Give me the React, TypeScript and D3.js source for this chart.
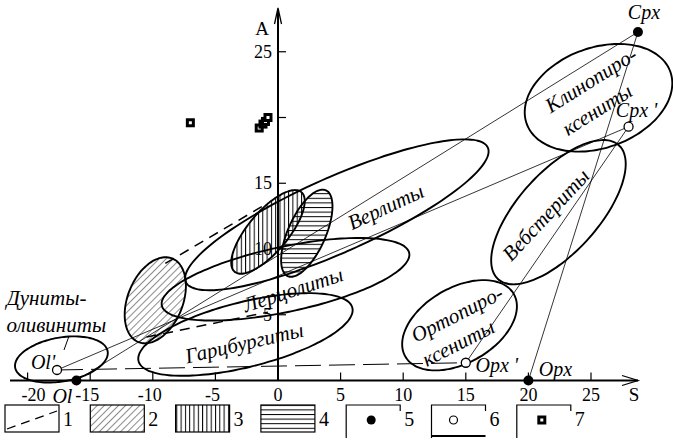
import React from 'react';
import * as d3 from 'd3';

// axis ticks
const sTicks = [-20, -15, -10, -5, 0, 5, 10, 15, 20, 25];
const aTicks = [5, 10, 15, 20, 25];
const aTickLabels = ['5', '10', '15', '', '25'];

// end members (filled dots) and recalculated end members (open dots)
const endNames = ['Cpx', 'Opx', 'Ol'];
const endS = [28.75, 20.0, -16.1];
const endA = [26.5, 0, 0];
const primeNames = ["Cpx '", "Opx '", "Ol'"];
const primeS = [28.0, 15.0, -17.65];
const primeA = [19.3, 1.35, 0.8];

// samples (legend 7)
const sampleS = [-7.0, -1.5, -1.2, -1.0, -0.8];
const sampleA = [19.6, 19.2, 19.5, 19.7, 20.0];

// rock fields: centre (S, A), half axes in S units, tilt in degrees
const fieldNames = ['Клинопироксениты', 'Вебстериты', 'Ортопироксениты', 'Верлиты', 'Лерцолиты', 'Гарцбургиты', 'Дуниты-оливиниты'];
const fieldS = [25.6, 22.4, 14.5, 4.7, 0.6, -2.6, -17.3];
const fieldA = [21.5, 12.8, 4.2, 12.6, 7.7, 3.5, 1.6];
const fieldRs = [6.1, 7.2, 5.0, 13.2, 10.1, 8.8, 3.75];
const fieldRa = [4.0, 3.2, 3.0, 3.0, 2.6, 2.6, 1.75];
const fieldTilt = [-20, -48, -30, -24, -12, -14, -10];

// hatched fields (legend 2, 3, 4)
const hatchS = [-9.8, -0.8, 2.3];
const hatchA = [6.1, 11.3, 11.2];
const hatchRs = [3.6, 4.15, 3.75];
const hatchRa = [2.2, 1.6, 1.5];
const hatchTilt = [-68, -50, -66];

// trend lines (legend 1)
const trendS0 = [-9.0, -10.5];
const trendA0 = [8.9, 3.3];
const trendS1 = [-0.8, -0.8];
const trendA1 = [13.5, 5.2];

// field labels
const labelText = ['Клинопиро-', 'ксениты', 'Вебстериты', 'Ортопиро-', 'ксениты', 'Верлиты', 'Лерцолиты', 'Гарцбургиты', 'Дуниты-', 'оливиниты'];
const labelS = [25.0, 25.5, 21.4, 14.3, 14.4, 8.6, 1.2, -2.7, -18.5, -17.7];
const labelA = [22.85, 20.6, 12.6, 5.05, 2.85, 13.2, 6.9, 2.85, 6.3, 4.2];
const labelTilt = [-32, -32, -47, -27, -27, -25, -18, -13, 0, 0];

const legendNums = ['1', '2', '3', '4', '5', '6', '7'];

const x = d3.scaleLinear().domain([0, 25]).range([278, 591]);
const y = d3.scaleLinear().domain([0, 25]).range([380.5, 51.75]);
const k = x(1) - x(0);

function ellipse(cs: number, ca: number, rs: number, ra: number, tilt: number) {
  const cx = x(cs), cy = y(ca);
  const rx = rs * k, ry = ra * k;
  const th = (tilt * Math.PI) / 180;
  const pts = d3.range(90).map((i) => {
    const t = (i / 90) * Math.PI * 2;
    const ex = rx * Math.cos(t), ey = ry * Math.sin(t);
    return [cx + ex * Math.cos(th) - ey * Math.sin(th), cy + ex * Math.sin(th) + ey * Math.cos(th)] as [number, number];
  });
  return d3.line().curve(d3.curveCardinalClosed)(pts) || '';
}

const hatchFill = ['url(#pDiag)', 'url(#pVert)', 'url(#pHor)'];

function Square({ cx, cy }: { cx: number; cy: number }) {
  return (
    <g>
      <rect x={cx - 4.5} y={cy - 4.5} width={9} height={9} fill="#000" />
      <rect x={cx - 1.5} y={cy - 1.5} width={3} height={3} fill="#fff" />
    </g>
  );
}

export default function App() {
  const y0 = y(0);
  const ties: [number, number, number, number][] = [
    [endS[0], endA[0], endS[2], endA[2]],
    [primeS[0], primeA[0], primeS[2], primeA[2]],
    [endS[0], endA[0], endS[1], endA[1]],
    [primeS[0], primeA[0], primeS[1], primeA[1]],
  ];
  const endOff = [[6, -20], [27, -12], [-14, 15]];
  const primeOff = [[8, -17], [31, 2], [-14, -8]];
  const italic = { fontStyle: 'italic' as const };

  return (
    <svg width={673} height={441} style={{ position: 'absolute', left: 0, top: 0, background: '#fff' }}
      fontFamily="'Liberation Serif', 'Times New Roman', serif">
      <defs>
        <pattern id="pDiag" width={5} height={5} patternUnits="userSpaceOnUse" patternTransform="rotate(45)">
          <line x1={0} y1={0} x2={0} y2={5} stroke="#000" strokeWidth={0.9} />
        </pattern>
        <pattern id="pVert" width={4.3} height={10} patternUnits="userSpaceOnUse">
          <line x1={0.5} y1={0} x2={0.5} y2={10} stroke="#000" strokeWidth={1} />
        </pattern>
        <pattern id="pHor" width={10} height={4.6} patternUnits="userSpaceOnUse">
          <line x1={0} y1={0.5} x2={10} y2={0.5} stroke="#000" strokeWidth={1} />
        </pattern>
      </defs>

      {/* hatched fields */}
      {hatchS.map((s, i) => (
        <path key={'h' + i} d={ellipse(s, hatchA[i], hatchRs[i], hatchRa[i], hatchTilt[i])}
          fill={hatchFill[i]} stroke="#000" strokeWidth={1.9} />
      ))}

      {/* rock fields */}
      {fieldNames.map((n, i) => (
        <path key={n} d={ellipse(fieldS[i], fieldA[i], fieldRs[i], fieldRa[i], fieldTilt[i])}
          fill="none" stroke="#000" strokeWidth={1.9} />
      ))}

      {/* tie lines */}
      {ties.map((t, i) => (
        <line key={'t' + i} x1={x(t[0])} y1={y(t[1])} x2={x(t[2])} y2={y(t[3])} stroke="#000" strokeWidth={0.8} />
      ))}
      <line x1={x(primeS[2])} y1={y(primeA[2])} x2={x(primeS[1])} y2={y(primeA[1])}
        stroke="#000" strokeWidth={1} strokeDasharray="26 8" />

      {/* trend lines */}
      {trendS0.map((s, i) => (
        <line key={'tr' + i} x1={x(s)} y1={y(trendA0[i])} x2={x(trendS1[i])} y2={y(trendA1[i])}
          stroke="#000" strokeWidth={1.5} strokeDasharray="10 7" />
      ))}

      {/* axes */}
      <line x1={10} y1={y0} x2={638} y2={y0} stroke="#000" strokeWidth={2} />
      <polyline points={`622,${y0 - 5} 638,${y0} 622,${y0 + 5}`} fill="none" stroke="#000" strokeWidth={1.3} />
      <line x1={x(0)} y1={y0} x2={x(0)} y2={9} stroke="#000" strokeWidth={2} />
      <polyline points={`${x(0) - 3.5},24 ${x(0)},8 ${x(0) + 3.5},24`} fill="none" stroke="#000" strokeWidth={1.3} />
      {sTicks.filter((s) => s !== 0).map((s) => (
        <line key={'xt' + s} x1={x(s)} y1={y0} x2={x(s)} y2={y0 - 8} stroke="#000" strokeWidth={1.2} />
      ))}
      {sTicks.map((s) => (
        <text key={'xl' + s} x={x(s) + (s === -20 ? 6 : s < 0 ? -3 : 0)} y={401} textAnchor="middle" fontSize={18}>{s}</text>
      ))}
      {aTicks.map((a) => (
        <line key={'yt' + a} x1={x(0)} y1={y(a)} x2={x(0) + 8} y2={y(a)} stroke="#000" strokeWidth={1.2} />
      ))}
      {aTicks.map((a, i) => (
        <text key={'yl' + a} x={x(0) - 6} y={y(a) + 6} textAnchor="end" fontSize={18}>{aTickLabels[i]}</text>
      ))}
      <text x={262} y={35} textAnchor="middle" fontSize={19}>A</text>
      <text x={634} y={401} textAnchor="middle" fontSize={19}>S</text>

      {/* markers */}
      {endS.map((s, i) => (
        <circle key={'e' + i} cx={x(s)} cy={y(endA[i])} r={5} fill="#000" />
      ))}
      {primeS.map((s, i) => (
        <circle key={'p' + i} cx={x(s)} cy={y(primeA[i])} r={4.5} fill="#fff" stroke="#000" strokeWidth={1.3} />
      ))}
      {sampleS.map((s, i) => (
        <Square key={'s' + i} cx={x(s)} cy={y(sampleA[i])} />
      ))}

      {/* point names */}
      {endNames.map((n, i) => (
        <text key={'en' + n} x={x(endS[i]) + endOff[i][0]} y={y(endA[i]) + endOff[i][1]} textAnchor="middle"
          dominantBaseline="central" fontSize={20} style={italic}>{n}</text>
      ))}
      {primeNames.map((n, i) => (
        <text key={'pn' + n} x={x(primeS[i]) + primeOff[i][0]} y={y(primeA[i]) + primeOff[i][1]} textAnchor="middle"
          dominantBaseline="central" fontSize={20} style={italic}>{n}</text>
      ))}
      <line x1={69} y1={336} x2={64} y2={350} stroke="#000" strokeWidth={1} />

      {/* field names */}
      {labelText.map((t, i) => (
        <text key={'lb' + i} transform={`translate(${x(labelS[i])},${y(labelA[i])}) rotate(${labelTilt[i]})`}
          textAnchor="middle" dominantBaseline="central" fontSize={21} style={italic}>{t}</text>
      ))}

      {/* legend */}
      {legendNums.map((n, i) => {
        const lx = 5 + i * 85.3, ly = 405, w = 54, h = 27;
        return (
          <g key={'lg' + n}>
            {i < 4 && (
              <rect x={lx} y={ly} width={w} height={h} fill={i === 0 ? '#fff' : hatchFill[i - 1]} stroke="#000" strokeWidth={1.2} />
            )}
            {i === 0 && (
              <line x1={lx + 2} y1={ly + h - 3} x2={lx + w - 2} y2={ly + 6} stroke="#000" strokeWidth={1.3} strokeDasharray="9 6" />
            )}
            {i >= 4 && (
              <path d={`M${lx},${ly + h + 6} V${ly} H${lx + w} V${ly + 6}`} fill="none" stroke="#000" strokeWidth={1.2} />
            )}
            {i === 5 && <line x1={lx} y1={ly + h + 4} x2={lx + w} y2={ly + h + 4} stroke="#000" strokeWidth={2} />}
            {i === 4 && <circle cx={lx + 25} cy={ly + 15} r={4.5} fill="#000" />}
            {i === 5 && <circle cx={lx + 22} cy={ly + 15} r={4} fill="#fff" stroke="#000" strokeWidth={1.2} />}
            {i === 6 && <Square cx={lx + 25} cy={ly + 15} />}
            <text x={lx + w + 4} y={ly + 21} fontSize={20}>{n}</text>
          </g>
        );
      })}
    </svg>
  );
}
